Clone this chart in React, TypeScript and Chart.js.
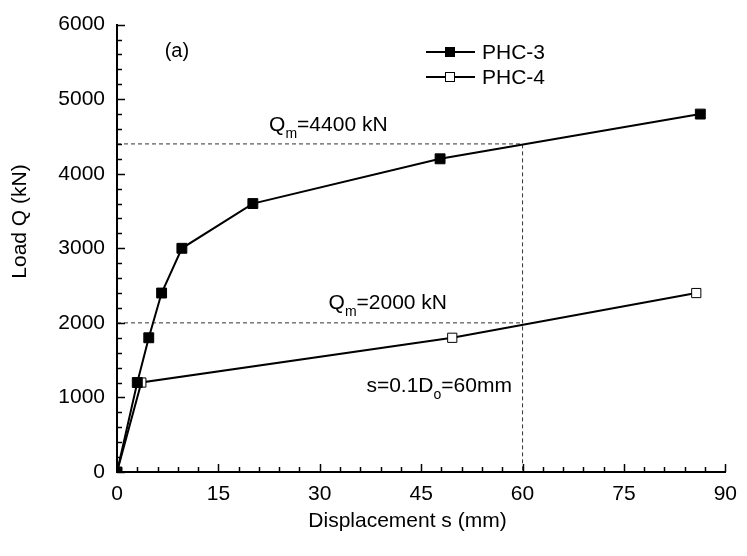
import React, { useEffect, useRef } from "react";
import { Chart, registerables } from "chart.js";

Chart.register(...registerables);

// ---- data ----
const phc3X = [0, 3, 4.7, 6.6, 9.6, 20.1, 47.8, 86.3];
const phc3Y = [0, 1200, 1800, 2400, 3000, 3600, 4200, 4800];
const phc4X = [0, 3.6, 49.6, 85.7];
const phc4Y = [0, 1200, 1800, 2400];
const qm3Value = 4400;
const qm4Value = 2000;
const sLimit = 60;
const seriesNames = ["PHC-3", "PHC-4"];
const xTitle = "Displacement s (mm)";
const yTitle = "Load Q (kN)";

const FONT = "'Liberation Sans', Arial, sans-serif";

function pts(xs: number[], ys: number[]) {
  return xs.map((x, i) => ({ x, y: ys[i] }));
}

const decorPlugin = {
  id: "decor",
  afterDraw(chart: any) {
    const ctx = chart.ctx as CanvasRenderingContext2D;
    const xs = chart.scales.x;
    const ys = chart.scales.y;
    const area = chart.chartArea;
    ctx.save();
    // inward ticks
    ctx.strokeStyle = "#000";
    ctx.lineWidth = 1.5;
    for (let v = 0; v <= 90; v += 3) {
      const px = Math.round(xs.getPixelForValue(v)) + 0.5;
      const len = v % 15 === 0 ? 8 : 5;
      ctx.beginPath();
      ctx.moveTo(px, area.bottom);
      ctx.lineTo(px, area.bottom - len);
      ctx.stroke();
    }
    for (let v = 0; v <= 6000; v += 200) {
      const py = Math.round(ys.getPixelForValue(v)) + 0.5;
      const len = v % 1000 === 0 ? 8 : 5;
      ctx.beginPath();
      ctx.moveTo(area.left, py);
      ctx.lineTo(area.left + len, py);
      ctx.stroke();
    }

    ctx.fillStyle = "#000";
    ctx.textBaseline = "alphabetic";
    ctx.textAlign = "left";

    const sub = (x: number, y: number, main: string, s: string, rest: string) => {
      ctx.font = `21px ${FONT}`;
      ctx.fillText(main, x, y);
      let cx = x + ctx.measureText(main).width;
      ctx.font = `14px ${FONT}`;
      ctx.fillText(s, cx, y + 7);
      cx += ctx.measureText(s).width;
      ctx.font = `21px ${FONT}`;
      ctx.fillText(rest, cx, y);
    };

    sub(xs.getPixelForValue(22.5), ys.getPixelForValue(qm3Value) - 13, "Q", "m", `=${qm3Value} kN`);
    sub(xs.getPixelForValue(31.3), ys.getPixelForValue(qm4Value) - 13.5, "Q", "m", `=${qm4Value} kN`);
    sub(xs.getPixelForValue(36.9), ys.getPixelForValue(1070), "s=0.1D", "o", `=${sLimit}mm`);

    ctx.font = `20px ${FONT}`;
    ctx.fillText("(a)", xs.getPixelForValue(7.05), ys.getPixelForValue(5570));

    // legend
    const lx0 = 426, lx1 = 475, lmx = 450;
    const rows = [52, 77];
    rows.forEach((ry, i) => {
      ctx.strokeStyle = "#000";
      ctx.lineWidth = 2;
      ctx.beginPath();
      ctx.moveTo(lx0, ry);
      ctx.lineTo(lx1, ry);
      ctx.stroke();
      ctx.lineWidth = 1;
      if (i === 0) {
        ctx.fillStyle = "#000";
        ctx.fillRect(lmx - 5, ry - 5, 10, 10);
      } else {
        ctx.fillStyle = "#fff";
        ctx.fillRect(lmx - 4.5, ry - 4.5, 9, 9);
        ctx.strokeRect(lmx - 4.5, ry - 4.5, 9, 9);
      }
      ctx.fillStyle = "#000";
      ctx.font = `21px ${FONT}`;
      ctx.textBaseline = "middle";
      ctx.fillText(seriesNames[i], 482, ry + 1);
    });

    // axis titles
    ctx.textBaseline = "alphabetic";
    ctx.textAlign = "center";
    ctx.font = `21px ${FONT}`;
    ctx.fillText(xTitle, 407.5, 527);
    ctx.translate(26, 221.5);
    ctx.rotate(-Math.PI / 2);
    ctx.fillText(yTitle, 0, 0);
    ctx.restore();
  },
};

export default function App() {
  const ref = useRef<HTMLCanvasElement>(null);
  useEffect(() => {
    document.body.style.margin = "0";
    const chart = new Chart(ref.current!, {
      type: "scatter",
      data: {
        datasets: [
          {
            label: seriesNames[0],
            data: pts(phc3X, phc3Y),
            showLine: true,
            borderColor: "#000",
            borderWidth: 2,
            pointStyle: "rect",
            pointRadius: 7,
            pointBackgroundColor: "#000",
            pointBorderColor: "#000",
            pointBorderWidth: 1,
            order: 1,
          },
          {
            label: seriesNames[1],
            data: pts(phc4X, phc4Y),
            showLine: true,
            borderColor: "#000",
            borderWidth: 2,
            pointStyle: "rect",
            pointRadius: 6.5,
            pointBackgroundColor: "#fff",
            pointBorderColor: "#000",
            pointBorderWidth: 1,
            order: 2,
          },
          {
            label: "Qm PHC-3",
            data: [
              { x: 0, y: qm3Value },
              { x: sLimit, y: qm3Value },
              { x: sLimit, y: 0 },
            ],
            showLine: true,
            borderColor: "#333",
            borderWidth: 1,
            borderDash: [4, 3],
            pointRadius: 0,
            order: 3,
          },
          {
            label: "Qm PHC-4",
            data: [
              { x: 0, y: qm4Value },
              { x: sLimit, y: qm4Value },
            ],
            showLine: true,
            borderColor: "#333",
            borderWidth: 1,
            borderDash: [4, 3],
            pointRadius: 0,
            order: 4,
          },
        ],
      },
      options: {
        responsive: false,
        animation: false,
        layout: { padding: { top: 19, right: 18, left: 0, bottom: 0 } },
        plugins: { legend: { display: false }, tooltip: { enabled: false } },
        scales: {
          x: {
            type: "linear",
            min: 0,
            max: 90,
            afterFit: (s: any) => {
              s.height = 84;
            },
            ticks: {
              stepSize: 15,
              color: "#000",
              font: { family: FONT, size: 21 },
              padding: 10,
              maxRotation: 0,
              callback: (v: any) => String(v),
            },
            grid: { display: false, drawTicks: false, tickLength: 0 },
            border: { display: true, color: "#000", width: 2 },
          },
          y: {
            type: "linear",
            min: 0,
            max: 6000,
            afterFit: (s: any) => {
              s.width = 117;
            },
            ticks: {
              stepSize: 1000,
              color: "#000",
              font: { family: FONT, size: 21 },
              padding: 12,
              callback: (v: any) => String(v),
            },
            grid: { display: false, drawTicks: false, tickLength: 0 },
            border: { display: true, color: "#000", width: 2 },
          },
        },
      },
      plugins: [decorPlugin],
    });
    return () => chart.destroy();
  }, []);
  return (
    <div style={{ position: "absolute", left: 0, top: 0, width: 747, height: 556, background: "#fff" }}>
      <canvas ref={ref} width={747} height={556} />
    </div>
  );
}
